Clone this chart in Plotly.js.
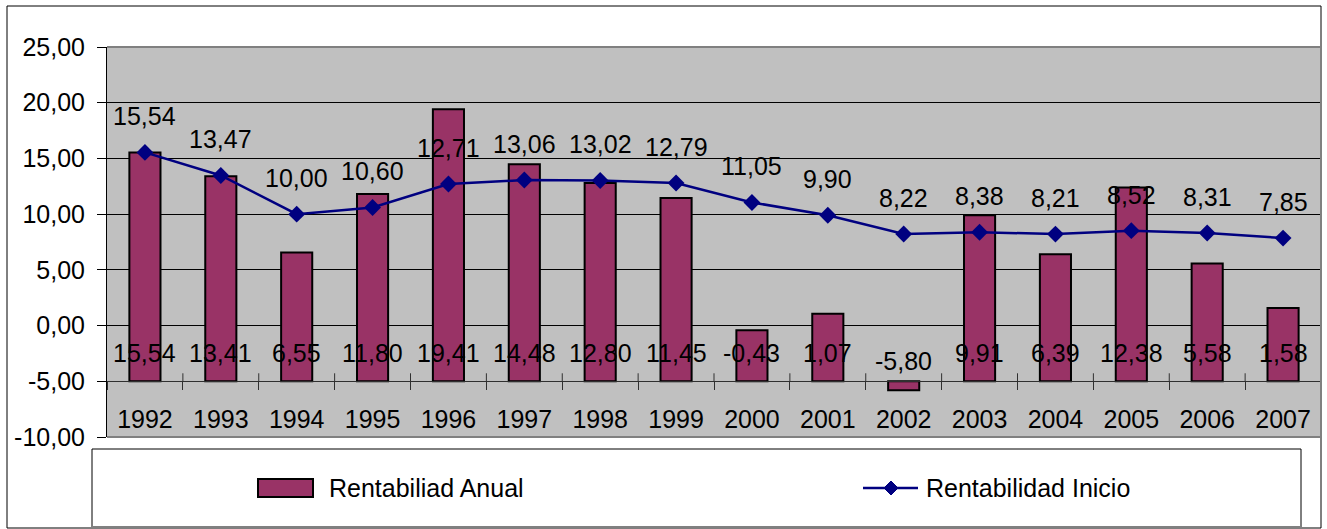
<!DOCTYPE html>
<html>
<head>
<meta charset="utf-8">
<script src="https://cdn.plot.ly/plotly-3.0.1.min.js"></script>
<style>
html,body{margin:0;padding:0;background:#fff;}
#chart{width:1327px;height:529px;}
</style>
</head>
<body>
<div id="chart"></div>
<script>
// ---- data ----
const categories = ['1992','1993','1994','1995','1996','1997','1998','1999','2000','2001','2002','2003','2004','2005','2006','2007'];
const rentabilidadAnual = [15.54, 13.41, 6.55, 11.80, 19.41, 14.48, 12.80, 11.45, -0.43, 1.07, -5.80, 9.91, 6.39, 12.38, 5.58, 1.58];
const rentabilidadInicio = [15.54, 13.47, 10.00, 10.60, 12.71, 13.06, 13.02, 12.79, 11.05, 9.90, 8.22, 8.38, 8.21, 8.52, 8.31, 7.85];
const yTickVals = [-10, -5, 0, 5, 10, 15, 20, 25];
const yTickText = ['-10,00', '-5,00', '0,00', '5,00', '10,00', '15,00', '20,00', '25,00'];
const seriesNames = ['Rentabiliad Anual', 'Rentabilidad Inicio'];
const BAR_BASE = -5;          // axis crossing value
const Y_RANGE = [-10, 25];

// ---- styling ----
const FONT = 'Liberation Sans, Arial, sans-serif';
const FS = 25;
const BAR_COLOR = '#993366';
const LINE_COLOR = '#000080';
const W = 1327, H = 529;
const M = {l: 107, r: 6, t: 47, b: 92};
const PW = W - M.l - M.r, PH = H - M.t - M.b;
const px = x => (x - M.l) / PW;           // pixel -> paper x
const py = y => (H - M.b - y) / PH;       // pixel -> paper y
const fmt = v => v.toFixed(2).replace('.', ',');
const axisPos = (BAR_BASE - Y_RANGE[0]) / (Y_RANGE[1] - Y_RANGE[0]);

const traces = [
  {
    type: 'bar',
    name: seriesNames[0],
    x: categories,
    y: rentabilidadAnual.map(v => v - BAR_BASE),
    base: BAR_BASE,
    width: 0.41,
    marker: {color: BAR_COLOR, line: {color: '#000', width: 2}},
    hoverinfo: 'skip'
  },
  {
    type: 'scatter',
    mode: 'lines+markers',
    name: seriesNames[1],
    x: categories,
    y: rentabilidadInicio,
    line: {color: LINE_COLOR, width: 2.5},
    marker: {symbol: 'diamond', size: 13, color: LINE_COLOR},
    cliponaxis: false,
    hoverinfo: 'skip'
  }
];

const annotations = [];
rentabilidadInicio.forEach((v, i) => {
  annotations.push({
    x: i, y: v, xref: 'x', yref: 'y',
    text: fmt(v), showarrow: false, yshift: 36,
    font: {family: FONT, size: FS, color: '#000'}
  });
});
rentabilidadAnual.forEach((v, i) => {
  annotations.push({
    x: i, y: BAR_BASE, xref: 'x', yref: 'y',
    text: fmt(v), showarrow: false, yshift: v >= BAR_BASE ? 28 : 20,
    font: {family: FONT, size: FS, color: '#000'}
  });
});
// legend texts
annotations.push({
  xref: 'paper', yref: 'paper', x: px(327), y: py(488), xanchor: 'left', yanchor: 'middle',
  text: seriesNames[0], showarrow: false, font: {family: FONT, size: FS, color: '#000'}
});
annotations.push({
  xref: 'paper', yref: 'paper', x: px(924), y: py(488), xanchor: 'left', yanchor: 'middle',
  text: seriesNames[1], showarrow: false, font: {family: FONT, size: FS, color: '#000'}
});

const dcx = 891, dcy = 488, dh = 7;
const diamondPath = `M ${px(dcx - dh)},${py(dcy)} L ${px(dcx)},${py(dcy - dh)} L ${px(dcx + dh)},${py(dcy)} L ${px(dcx)},${py(dcy + dh)} Z`;

const shapes = [
  // outer chart border
  {type: 'rect', xref: 'paper', yref: 'paper', x0: px(7), x1: px(1321), y0: py(528), y1: py(6),
   line: {color: '#000', width: 1}, layer: 'above'},
  // plot area top / right / bottom borders
  {type: 'line', xref: 'paper', yref: 'paper', x0: 0, x1: 1, y0: 1, y1: 1, line: {color: '#808080', width: 2}, layer: 'above'},
  {type: 'line', xref: 'paper', yref: 'paper', x0: 1, x1: 1, y0: 0, y1: 1, line: {color: '#808080', width: 2}, layer: 'above'},
  {type: 'line', xref: 'paper', yref: 'paper', x0: 0, x1: 1, y0: 0, y1: 0, line: {color: '#808080', width: 2}, layer: 'above'},
  // legend box
  {type: 'rect', xref: 'paper', yref: 'paper', x0: px(92), x1: px(1301), y0: py(527), y1: py(449),
   line: {color: '#000', width: 1}, fillcolor: '#fff', layer: 'above'},
  {type: 'line', xref: 'paper', yref: 'paper', x0: px(92), x1: px(1302), y0: py(527), y1: py(527),
   line: {color: '#808080', width: 2}, layer: 'above'},
  // legend swatch
  {type: 'rect', xref: 'paper', yref: 'paper', x0: px(258), x1: px(313), y0: py(497), y1: py(479),
   line: {color: '#000', width: 2}, fillcolor: BAR_COLOR, layer: 'above'},
  // legend line + diamond
  {type: 'line', xref: 'paper', yref: 'paper', x0: px(863), x1: px(918), y0: py(488), y1: py(488),
   line: {color: LINE_COLOR, width: 2.5}, layer: 'above'},
  {type: 'path', xref: 'paper', yref: 'paper', path: diamondPath, fillcolor: LINE_COLOR,
   line: {color: LINE_COLOR, width: 1}, layer: 'above'}
];
// upper half of the category tick marks (crossing the axis line)
for (let i = 1; i < categories.length; i++) {
  shapes.push({type: 'line', xref: 'x', yref: 'y', x0: i - 0.5, x1: i - 0.5,
    ysizemode: 'pixel', yanchor: BAR_BASE, y0: 0, y1: 8,
    line: {color: '#303030', width: 1}, layer: 'above'});
}

const layout = {
  width: W, height: H,
  margin: M,
  paper_bgcolor: '#fff',
  plot_bgcolor: '#c0c0c0',
  showlegend: false,
  font: {family: FONT, size: FS, color: '#000'},
  xaxis: {
    type: 'category',
    categoryorder: 'array', categoryarray: categories,
    range: [-0.5, categories.length - 0.5],
    anchor: 'free', position: axisPos,
    showline: true, linecolor: '#303030', linewidth: 1,
    ticks: 'outside', tickson: 'boundaries', ticklen: 8, tickwidth: 1, tickcolor: '#303030',
    ticklabelstandoff: 16,
    tickfont: {family: FONT, size: FS, color: '#000'},
    showgrid: false, zeroline: false, fixedrange: true
  },
  yaxis: {
    range: Y_RANGE,
    tickvals: yTickVals, ticktext: yTickText,
    showline: true, linecolor: '#000', linewidth: 1,
    ticks: 'outside', ticklen: 9, tickwidth: 1, tickcolor: '#000',
    ticklabelstandoff: 7,
    tickfont: {family: FONT, size: FS, color: '#000'},
    showgrid: true, gridcolor: '#000', gridwidth: 1,
    zeroline: false, fixedrange: true
  },
  annotations: annotations,
  shapes: shapes
};

Plotly.newPlot('chart', traces, layout, {staticPlot: true, displayModeBar: false});
</script>
</body>
</html>
